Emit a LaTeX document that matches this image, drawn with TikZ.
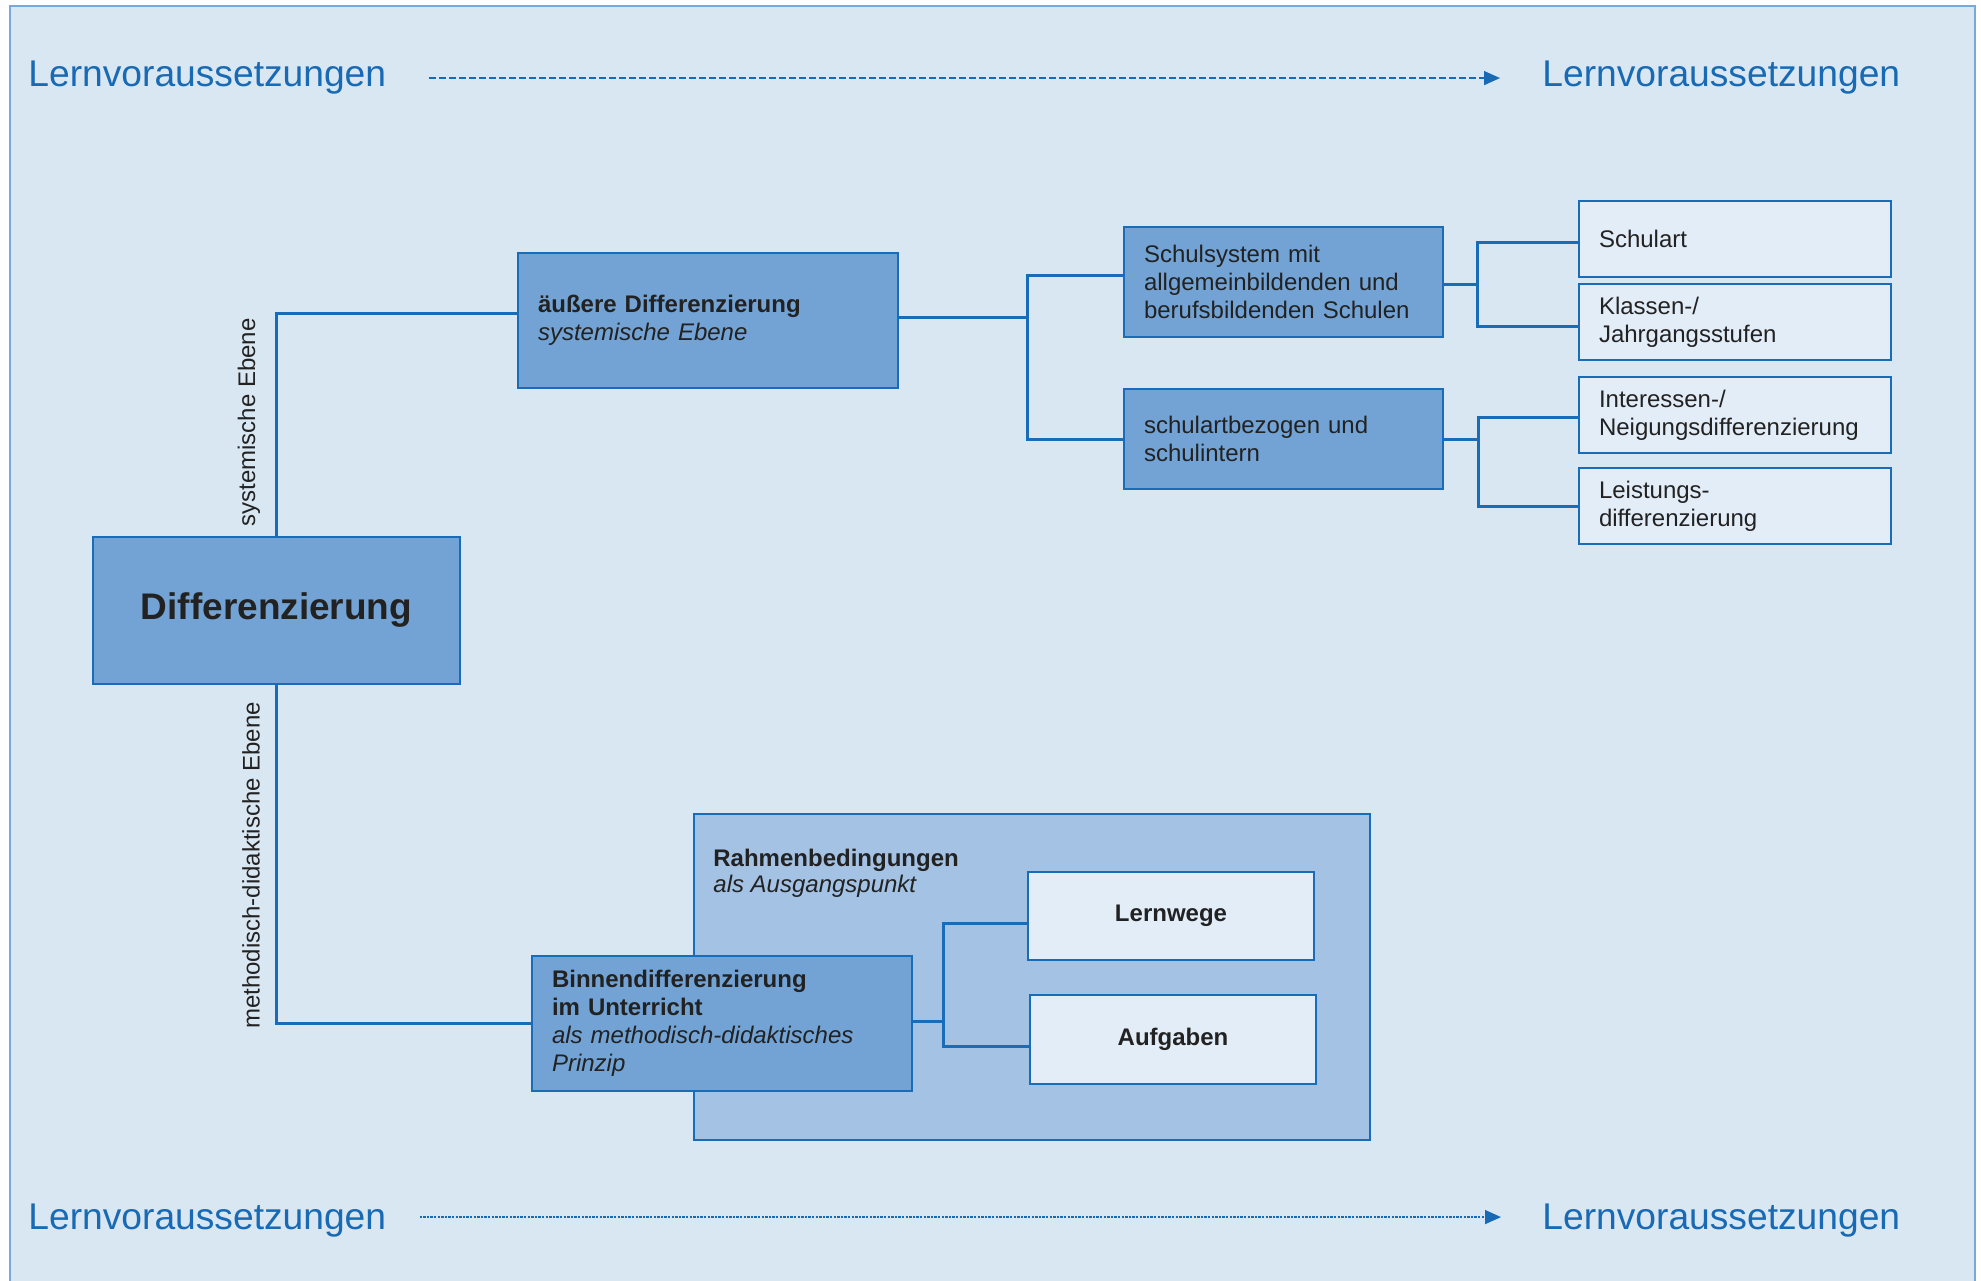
\documentclass[tikz,border=0pt]{standalone}
\usepackage{fontspec}
\setmainfont{Liberation Sans}
\usetikzlibrary{arrows.meta}

\definecolor{bgblue}{RGB}{217,231,243}
\definecolor{darkfill}{RGB}{114,163,212}
\definecolor{midfill}{RGB}{163,194,228}
\definecolor{lightfill}{RGB}{227,237,248}
\definecolor{lineblue}{RGB}{25,108,184}
\definecolor{framecol}{RGB}{120,168,220}
\definecolor{textblue}{RGB}{24,106,180}
\definecolor{textdark}{RGB}{34,34,34}

\begin{document}
\begin{tikzpicture}[x=0.5pt,y=-0.5pt,
  box/.style={draw=lineblue, line width=1pt, text=textdark, inner ysep=0pt,
    font=\fontsize{12}{14}\selectfont},
  darkbox/.style={box, fill=darkfill, align=left, inner xsep=10pt},
  lightbox/.style={box, fill=lightfill, align=left, inner xsep=10pt,
    text width=136pt, minimum height=38pt},
  taskbox/.style={box, fill=lightfill, align=center, minimum width=143pt,
    font=\fontsize{12}{14}\selectfont\bfseries},
  conn/.style={draw=lineblue, line width=1.5pt},
  lvtext/.style={text=textblue, inner sep=0pt, font=\fontsize{18.6}{22}\selectfont},
  levellabel/.style={text=textdark, inner sep=0pt, rotate=90,
    font=\fontsize{12}{14}\selectfont},
  flow/.style={draw=textblue, line width=0.75pt, -{Triangle[length=8pt,width=7pt]}}]

\useasboundingbox (0,0) rectangle (1981,1280);

%% background
\draw[draw=framecol, line width=0.75pt, fill=bgblue] (10,6) rectangle (1975,1300);

%% Lernvoraussetzungen
\node[lvtext, anchor=base west] (lvtl) at (28,86) {Lernvoraussetzungen};
\node[lvtext, anchor=base west] (lvtr) at (1542,86) {Lernvoraussetzungen};
\node[lvtext, anchor=base west] (lvbl) at (28,1229) {Lernvoraussetzungen};
\node[lvtext, anchor=base west] (lvbr) at (1542,1229) {Lernvoraussetzungen};
\draw[flow, dash pattern=on 3.5pt off 1.5pt] ([xshift=21pt,yshift=-0.5pt]lvtl.east) -- ([xshift=-21pt,yshift=-0.5pt]lvtr.west);
\draw[flow, dash pattern=on 1.2pt off 0.6pt] ([xshift=16.5pt,yshift=1.5pt]lvbl.east) -- ([xshift=-20.5pt,yshift=1.5pt]lvbr.west);

%% frame of the lower part
\node[box, fill=midfill, minimum width=338pt, minimum height=163pt] (rahmen) at (1032,977) {};
\node[text=textdark, inner sep=0pt, align=left, anchor=north west,
  font=\fontsize{12}{13.2}\selectfont] (rahmentext) at ([xshift=10pt,yshift=-17.75pt]rahmen.north west)
  {\textbf{Rahmenbedingungen}\\\textit{als Ausgangspunkt}};

%% boxes
\node[box, fill=darkfill, minimum width=183.5pt, minimum height=73.5pt,
  font=\fontsize{18.5}{22}\selectfont\bfseries] (diff) at (276.5,610.5) {Differenzierung};

\node[darkbox, text width=170pt, minimum height=67.5pt] (aussen) at (708,320.5)
  {\textbf{äußere Differenzierung}\\\textit{systemische Ebene}};
\node[darkbox, text width=139.5pt, minimum height=55pt] (schulsys) at (1283.5,282)
  {Schulsystem mit\\allgemeinbildenden und\\berufsbildenden Schulen};
\node[darkbox, text width=139.5pt, minimum height=50pt] (schulint) at (1283.5,439)
  {schulartbezogen und\\schulintern};

\node[lightbox] (schulart) at (1735,239) {Schulart};
\node[lightbox] (klassen) at (1735,322) {Klassen-/\\Jahrgangsstufen};
\node[lightbox] (interesse) at (1735,415) {Interessen-/\\Neigungsdifferenzierung};
\node[lightbox] (leistung) at (1735,506) {Leistungs-\\differenzierung};

\node[darkbox, text width=170pt, minimum height=67.5pt] (binnen) at (722,1023.5)
  {\textbf{Binnendifferenzierung}\\\textbf{im Unterricht}\\\textit{als methodisch-didaktisches}\\\textit{Prinzip}};
\node[taskbox, minimum height=44pt] (lernwege) at (1171,916) {Lernwege};
\node[taskbox, minimum height=44.5pt] (aufgaben) at (1173,1039.5) {Aufgaben};

%% level labels
\node[levellabel] (syslabel) at (249,422.5) {systemische Ebene};
\node[levellabel] (methlabel) at (251,865.5) {methodisch-didaktische Ebene};

%% connectors
\draw[conn] (diff.north) |- ([yshift=3.75pt]aussen.west);
\draw[conn] (diff.south) |- (binnen.west);

\coordinate (b1) at (1027,360);
\coordinate (b2) at (1477,284);
\coordinate (b3) at (1478,439);
\coordinate (b4) at (943,1021);

\draw[conn] ([yshift=1.75pt]aussen.east) -- ([yshift=1.75pt]aussen.east -| b1);
\draw[conn] ([yshift=3.5pt]schulsys.west) -| (b1) |- (schulint.west);
\draw[conn] (schulsys.east |- b2) -- (b2);
\draw[conn] ([yshift=-1.5pt]schulart.west) -| (b2) |- ([yshift=-2pt]klassen.west);
\draw[conn] (schulint.east) -- (b3);
\draw[conn] ([yshift=-1pt]interesse.west) -| (b3) |- (leistung.west);
\draw[conn] (binnen.east |- b4) -- (b4);
\draw[conn] ([yshift=-3.5pt]lernwege.west) -| (b4) |- ([yshift=-3.25pt]aufgaben.west);

\end{tikzpicture}
\end{document}
